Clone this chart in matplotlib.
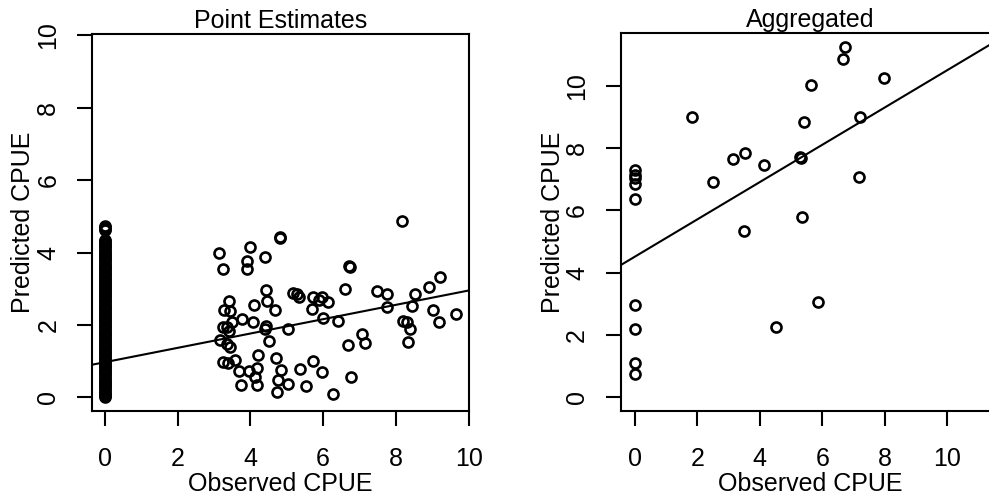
import matplotlib
matplotlib.use("Agg")
import matplotlib.pyplot as plt

plt.rcParams['font.family'] = ['Liberation Sans', 'DejaVu Sans']
plt.rcParams['font.size'] = 18

# ---- Point Estimates panel ----
# observations with observed CPUE of zero (stacked column at x = 0)
zero_pred = [0.00, 0.04, 0.09, 0.13, 0.18, 0.22, 0.27, 0.31, 0.36, 0.40,
             0.45, 0.49, 0.54, 0.58, 0.63, 0.67, 0.72, 0.76, 0.81, 0.85,
             0.90, 0.94, 0.99, 1.03, 1.08, 1.12, 1.17, 1.21, 1.26, 1.30,
             1.35, 1.39, 1.44, 1.48, 1.53, 1.57, 1.62, 1.66, 1.71, 1.75,
             1.80, 1.84, 1.89, 1.93, 1.98, 2.02, 2.07, 2.11, 2.16, 2.20,
             2.25, 2.29, 2.34, 2.38, 2.43, 2.47, 2.52, 2.56, 2.61, 2.65,
             2.70, 2.74, 2.79, 2.83, 2.88, 2.92, 2.97, 3.01, 3.06, 3.10,
             3.15, 3.19, 3.24, 3.28, 3.33, 3.37, 3.42, 3.46, 3.51, 3.55,
             3.60, 3.64, 3.69, 3.73, 3.78, 3.82, 3.87, 3.91, 3.96, 4.00,
             4.05, 4.09, 4.14, 4.18, 4.23, 4.27, 4.32, 4.36,
             4.62, 4.66, 4.70, 4.74]

obs_pos = [3.13, 3.25, 3.99, 3.90, 3.91, 4.40, 4.81, 4.81, 8.16, 6.72, 6.74,
           9.21, 8.92, 8.52, 8.45, 7.47, 7.75, 7.75, 6.60, 9.03, 9.19, 9.65,
           8.20, 8.30, 8.39, 8.34, 7.06, 7.15, 6.67, 6.76, 6.28, 6.42, 6.00,
           5.98, 6.14, 5.89, 5.73, 5.68, 5.18, 5.27, 5.33, 5.04, 4.67, 4.45,
           4.43, 4.11, 4.06, 4.42, 4.40, 4.52, 3.76, 3.42, 3.27, 3.44, 3.48,
           3.24, 3.35, 3.42, 3.16, 3.35, 3.44, 3.25, 3.39, 3.57, 3.69, 3.74,
           3.97, 4.17, 4.22, 4.12, 4.19, 4.69, 4.84, 4.77, 4.74, 5.04, 5.36,
           5.53, 5.71, 5.96]
pred_pos = [3.99, 3.54, 4.14, 3.77, 3.54, 3.88, 4.44, 4.40, 4.88, 3.64, 3.59,
            3.31, 3.06, 2.84, 2.51, 2.95, 2.86, 2.49, 2.99, 2.40, 2.08, 2.30,
            2.12, 2.08, 1.89, 1.54, 1.75, 1.50, 1.45, 0.56, 0.10, 2.10, 2.19,
            2.76, 2.63, 2.69, 2.76, 2.44, 2.87, 2.84, 2.78, 1.89, 2.42, 2.67,
            2.97, 2.56, 2.08, 1.96, 1.89, 1.55, 2.15, 2.67, 2.42, 2.38, 2.08,
            1.94, 1.94, 1.83, 1.57, 1.48, 1.40, 0.97, 0.95, 1.02, 0.72, 0.33,
            0.73, 0.82, 1.16, 0.56, 0.35, 1.08, 0.74, 0.47, 0.15, 0.36, 0.77,
            0.31, 0.99, 0.70]
fit_left = (0.97, 0.198)   # intercept, slope

# ---- Aggregated panel ----
agg_obs = [0, 0, 0, 0, 0, 0, 0, 0, 0,
           1.84, 2.49, 3.13, 3.53, 3.48, 4.12, 4.52, 5.29, 5.32, 5.35, 5.43,
           5.64, 5.85, 6.72, 6.68, 7.20, 7.19, 7.97]
agg_pred = [7.30, 7.15, 7.05, 6.85, 6.37, 2.95, 2.18, 1.11, 0.75,
            8.99, 6.90, 7.64, 7.86, 5.34, 7.46, 2.27, 7.73, 7.67, 5.80, 8.83,
            10.03, 3.05, 11.24, 10.87, 8.99, 7.07, 10.26]
fit_right = (4.52, 0.598)

ticks = [0, 2, 4, 6, 8, 10]

fig = plt.figure(figsize=(9.89, 4.97), dpi=100)
ax1 = fig.add_axes([0.09302, 0.17304, 0.38150, 0.75855])
ax2 = fig.add_axes([0.62760, 0.17304, 0.38352, 0.75996])

mk = dict(linestyle='none', marker='o', markersize=7.2, markerfacecolor='none',
          markeredgecolor='black', markeredgewidth=1.9)

ax1.plot([0] * len(zero_pred), zero_pred, **mk)
ax1.plot(obs_pos, pred_pos, **mk)
ax1.axline((0, fit_left[0]), slope=fit_left[1], color='black', lw=1.5)
ax1.set_xlim(-0.36, 10.02)
ax1.set_ylim(-0.38, 10.04)
ax1.set_title('Point Estimates', fontsize=18, pad=4.3)

ax2.plot(agg_obs, agg_pred, **mk)
ax2.axline((0, fit_right[0]), slope=fit_right[1], color='black', lw=1.5)
ax2.set_xlim(-0.46, 11.7)
ax2.set_ylim(-0.44, 11.69)
ax2.set_title('Aggregated', fontsize=18, pad=4.3)

for ax, ylx in ((ax1, -0.1644), (ax2, -0.160)):
    ax.set_xticks(ticks)
    ax.set_yticks(ticks)
    for s in ax.spines.values():
        s.set_linewidth(1.5)
    ax.tick_params(direction='out', length=10.8, width=1.5, labelsize=18)
    ax.tick_params(axis='x', pad=15)
    ax.tick_params(axis='y', pad=12, labelrotation=90)
    for lbl in ax.get_yticklabels():
        lbl.set_va('center')
    ax.set_xlabel('Observed CPUE', fontsize=18)
    ax.xaxis.label.set_va('baseline')
    ax.xaxis.set_label_coords(0.5, -0.212)
    ax.set_ylabel('Predicted CPUE', fontsize=18)
    ax.yaxis.label.set_va('baseline')
    ax.yaxis.set_label_coords(ylx, 0.5)

fig.savefig('out.png', dpi=100)
